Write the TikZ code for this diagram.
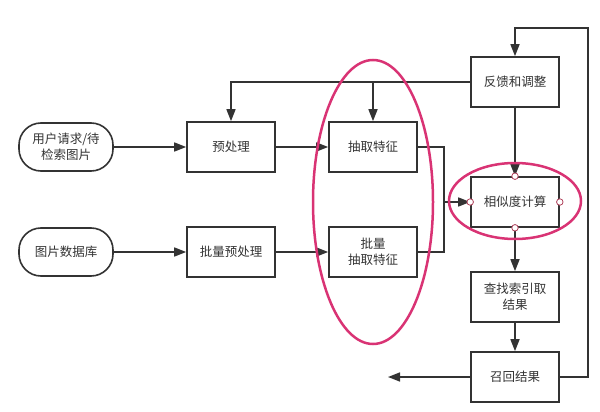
\documentclass[tikz,border=0pt]{standalone}
\usepackage{fontspec}
\setmainfont{Noto Sans CJK SC}
\usetikzlibrary{arrows.meta,positioning,calc}
\definecolor{ink}{HTML}{333333}
\definecolor{hl}{HTML}{D93374}
\definecolor{dot}{HTML}{B0405A}
\tikzset{
  box/.style={draw=ink, line width=1.6pt, minimum width=88pt, minimum height=50pt, inner sep=2pt, align=center, font=\fontsize{12.5pt}{16pt}\selectfont, text=ink},
  pill/.style={box, minimum width=94pt, minimum height=48pt, rounded corners=22pt},
  conn/.style={draw=ink, line width=1.5pt},
  arr/.style={conn, -{Triangle[length=12pt,width=9pt]}},
  port/.style={circle, draw=dot, fill=white, line width=0.8pt, inner sep=0pt, minimum size=6.5pt},
  ring/.style={draw=hl, line width=2.5pt}
}
\begin{document}
\begin{tikzpicture}[x=1pt,y=-1pt]
\useasboundingbox (0,0) rectangle (600,412);
\node[pill] (user) at (66,147) {用户请求/待\\检索图片};
\node[pill] (db) at (66,252) {图片数据库};
\node[box] (pre) at (231,147) {预处理};
\node[box] (bpre) at (231,252) {批量预处理};
\node[box] (feat) at (373,147) {抽取特征};
\node[box] (bfeat) at (373,252) {批量\\抽取特征};
\node[box] (fb) at (515,82) {反馈和调整};
\node[box] (sim) at (515,202) {相似度计算};
\node[box] (search) at (515,297) {查找索引取\\结果};
\node[box] (recall) at (515,377) {召回结果};
\coordinate (out) at (388,377);
\coordinate (mj) at (444,202);
\coordinate (loopR) at (588,28);

\draw[arr] (user) -- (pre);
\draw[arr] (db) -- (bpre);
\draw[arr] (pre) -- (feat);
\draw[arr] (bpre) -- (bfeat);
\draw[arr] (feat.east) -| (mj) -- (sim.west);
\draw[conn] (bfeat.east) -| (mj);
\draw[arr] (fb.west) -| (pre.north);
\draw[arr] (fb.west -| feat.north) -- (feat.north);
\draw[arr] (fb) -- (sim);
\draw[arr] (sim) -- (search);
\draw[arr] (search) -- (recall);
\draw[arr] (recall) -- (out);
\draw[arr] (recall.east) -| (loopR) -| (fb.north);

\node[port] (p1) at (sim.north) {};
\node[port] (p2) at (sim.south) {};
\node[port] (p3) at (sim.west) {};
\node[port] (p4) at (sim.east) {};

\draw[ring] (373,202) ellipse [x radius=60, y radius=142];
\draw[ring] (515,201) ellipse [x radius=66, y radius=38];
\end{tikzpicture}
\end{document}
